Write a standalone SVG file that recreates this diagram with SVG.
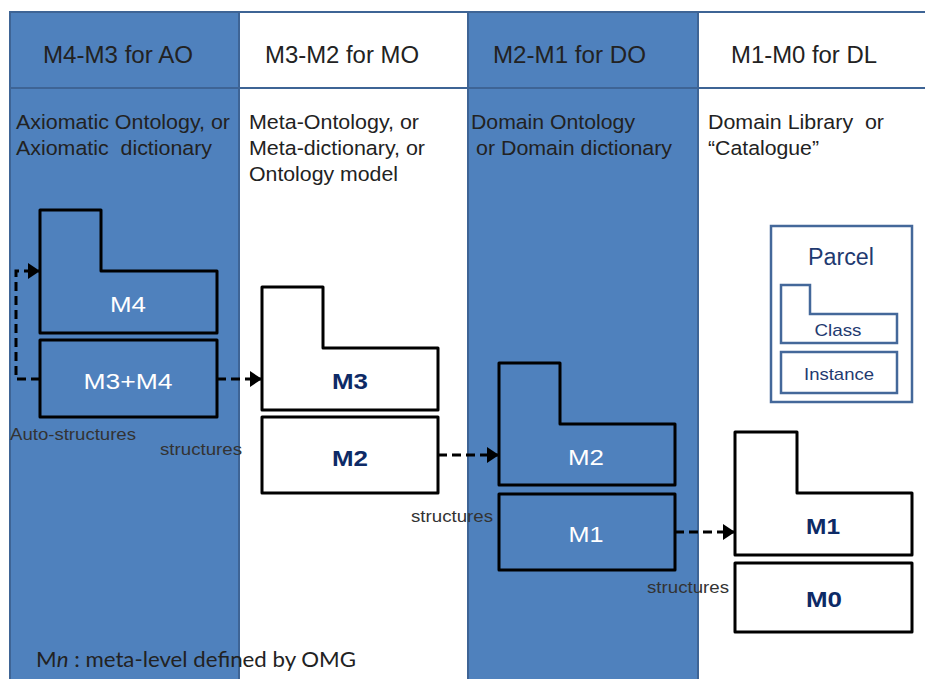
<svg xmlns="http://www.w3.org/2000/svg" width="925" height="679" viewBox="0 0 925 679">
<style>
.bg{fill:#4f81bd;stroke:#3e6495;stroke-width:2}
.wh{fill:#ffffff;stroke:#3e6495;stroke-width:2}
.hd{font-family:"Liberation Sans",Arial,sans-serif;font-size:23px;fill:#222}
.sub{font-family:"Liberation Sans",Arial,sans-serif;font-size:20.5px;fill:#222}
.nb{fill:none;stroke:#000;stroke-width:3;stroke-linejoin:round}
.nbw{fill:#fff;stroke:#000;stroke-width:3;stroke-linejoin:round}
.lw{font-family:"Liberation Sans",Arial,sans-serif;font-size:22px;fill:#fff;text-anchor:middle}
.lb{font-family:"Liberation Sans",Arial,sans-serif;font-size:22px;font-weight:bold;fill:#0d2a66;text-anchor:middle}
.st{font-family:"Liberation Sans",Arial,sans-serif;font-size:16.5px;fill:#333}
.con{fill:none;stroke:#000;stroke-width:3;stroke-dasharray:9,5}
.pc{fill:#fff;stroke:#44689a;stroke-width:2.5}
.pt{font-family:"Liberation Sans",Arial,sans-serif;fill:#1f3a70;text-anchor:middle}
</style>
<defs>
<marker id="ah" viewBox="0 0 12 16" refX="12" refY="8" markerWidth="12" markerHeight="16" markerUnits="userSpaceOnUse" orient="auto">
<path d="M0,0 L12,8 L0,16 Z" fill="#000"/>
</marker>
</defs>
<rect width="925" height="679" fill="#fff"/>
<g id="columns">
<rect class="bg" x="10" y="12" width="229" height="680"/>
<rect class="wh" x="239" y="12" width="229" height="680"/>
<rect class="bg" x="468" y="12" width="230" height="680"/>
<rect class="wh" x="698" y="12" width="240" height="680"/>
<line x1="10" y1="88" x2="925" y2="88" stroke="#3e6495" stroke-width="2"/>
</g>
<g id="headers">
<text class="hd" x="43" y="63" textLength="150" lengthAdjust="spacingAndGlyphs">M4-M3 for AO</text>
<text class="hd" x="265" y="63" textLength="154" lengthAdjust="spacingAndGlyphs">M3-M2 for MO</text>
<text class="hd" x="493" y="63" textLength="153" lengthAdjust="spacingAndGlyphs">M2-M1 for DO</text>
<text class="hd" x="731" y="63" textLength="146" lengthAdjust="spacingAndGlyphs">M1-M0 for DL</text>
</g>
<g id="subtitles">
<text class="sub" x="16" y="129" textLength="214" lengthAdjust="spacingAndGlyphs">Axiomatic Ontology, or</text>
<text class="sub" x="16" y="155" xml:space="preserve" textLength="196" lengthAdjust="spacingAndGlyphs">Axiomatic  dictionary</text>
<text class="sub" x="249" y="129" textLength="170" lengthAdjust="spacingAndGlyphs">Meta-Ontology, or</text>
<text class="sub" x="249" y="155" textLength="176" lengthAdjust="spacingAndGlyphs">Meta-dictionary, or</text>
<text class="sub" x="249" y="181" textLength="149" lengthAdjust="spacingAndGlyphs">Ontology model</text>
<text class="sub" x="471" y="129" textLength="164" lengthAdjust="spacingAndGlyphs">Domain Ontology</text>
<text class="sub" x="476" y="155" textLength="196" lengthAdjust="spacingAndGlyphs">or Domain dictionary</text>
<text class="sub" x="708" y="129" xml:space="preserve" textLength="176" lengthAdjust="spacingAndGlyphs">Domain Library  or</text>
<text class="sub" x="708" y="155" textLength="111" lengthAdjust="spacingAndGlyphs">“Catalogue”</text>
</g>
<g id="node-m4">
<path class="nb" d="M40,210 H101 V271 H217 V333 H40 Z"/>
<text class="lw" x="128" y="312" textLength="36" lengthAdjust="spacingAndGlyphs">M4</text>
</g>
<g id="node-m3m4">
<rect class="nb" x="40" y="340" width="177" height="77"/>
<text class="lw" x="128" y="389" textLength="89" lengthAdjust="spacingAndGlyphs">M3+M4</text>
</g>
<g id="node-m3">
<path class="nbw" d="M262,287 H323 V348 H438 V410 H262 Z"/>
<text class="lb" x="350" y="389" textLength="36" lengthAdjust="spacingAndGlyphs">M3</text>
</g>
<g id="node-m2a">
<rect class="nbw" x="262" y="417" width="176" height="76"/>
<text class="lb" x="350" y="466" textLength="36" lengthAdjust="spacingAndGlyphs">M2</text>
</g>
<g id="node-m2b">
<path class="nb" d="M499,363 H560 V424 H675 V485 H499 Z"/>
<text class="lw" x="586" y="465" textLength="36" lengthAdjust="spacingAndGlyphs">M2</text>
</g>
<g id="node-m1a">
<rect class="nb" x="499" y="494" width="176" height="76"/>
<text class="lw" x="586" y="542" textLength="35" lengthAdjust="spacingAndGlyphs">M1</text>
</g>
<g id="node-m1b">
<path class="nbw" d="M735,432 H797 V493 H912 V555 H735 Z"/>
<text class="lb" x="823" y="534" textLength="34" lengthAdjust="spacingAndGlyphs">M1</text>
</g>
<g id="node-m0">
<rect class="nbw" x="735" y="563" width="177" height="69"/>
<text class="lb" x="824" y="607" textLength="36" lengthAdjust="spacingAndGlyphs">M0</text>
</g>
<g id="legend-parcel">
<rect class="pc" x="771" y="226" width="141" height="176"/>
<text class="pt" x="841" y="265" font-size="23" textLength="66" lengthAdjust="spacingAndGlyphs">Parcel</text>
<path class="pc" d="M781,285 H810 V314 H897 V343 H781 Z"/>
<text class="pt" x="838" y="336" font-size="17" textLength="47" lengthAdjust="spacingAndGlyphs">Class</text>
<rect class="pc" x="781" y="352" width="116" height="41"/>
<text class="pt" x="839" y="380" font-size="17" textLength="70" lengthAdjust="spacingAndGlyphs">Instance</text>
</g>
<g id="connectors">
<path class="con" d="M40,379 H16 V271 H40" marker-end="url(#ah)"/>
<path class="con" d="M217,379 H262" marker-end="url(#ah)"/>
<path class="con" d="M438,455 H499" marker-end="url(#ah)"/>
<path class="con" d="M675,532 H735" marker-end="url(#ah)"/>
</g>
<g id="labels">
<text class="st" x="10" y="440" textLength="126" lengthAdjust="spacingAndGlyphs">Auto-structures</text>
<text class="st" x="160" y="455" textLength="82" lengthAdjust="spacingAndGlyphs">structures</text>
<text class="st" x="411" y="522" textLength="82" lengthAdjust="spacingAndGlyphs">structures</text>
<text class="st" x="647" y="593" textLength="82" lengthAdjust="spacingAndGlyphs">structures</text>
<text x="36" y="667" font-family="Lato,'Open Sans',sans-serif" font-size="22" fill="#222" textLength="320" lengthAdjust="spacingAndGlyphs">M<tspan font-style="italic">n</tspan> : meta-level defined by OMG</text>
</g>
</svg>
